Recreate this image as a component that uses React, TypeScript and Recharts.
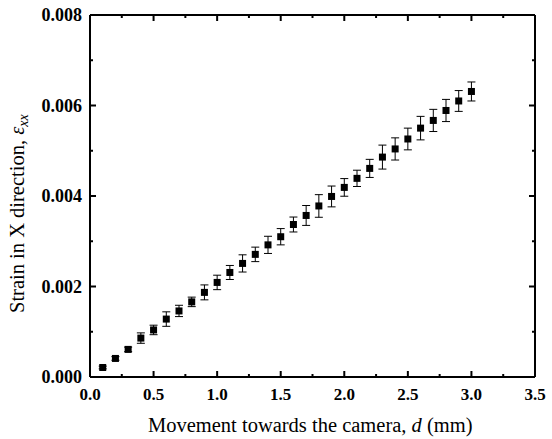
import {
  ScatterChart,
  Scatter,
  XAxis,
  YAxis,
  ZAxis,
  ErrorBar,
} from "recharts";

const distance = [
  0.1, 0.2, 0.3, 0.4, 0.5, 0.6, 0.7, 0.8, 0.9, 1.0, 1.1, 1.2, 1.3, 1.4, 1.5,
  1.6, 1.7, 1.8, 1.9, 2.0, 2.1, 2.2, 2.3, 2.4, 2.5, 2.6, 2.7, 2.8, 2.9, 3.0,
];
const strain = [
  0.00021, 0.00041, 0.00061, 0.00086, 0.00104, 0.00128, 0.00146, 0.00166,
  0.00187, 0.00209, 0.00231, 0.00251, 0.00271, 0.00292, 0.0031, 0.00337,
  0.00357, 0.00378, 0.00399, 0.00419, 0.00439, 0.00461, 0.00486, 0.00504,
  0.00526, 0.0055, 0.00567, 0.00589, 0.0061, 0.00631,
];
const strainError = [
  0.00003, 0.00004, 0.00005, 0.000115, 0.000105, 0.00016, 0.000125, 0.000105,
  0.000165, 0.00016, 0.000155, 0.00019, 0.00016, 0.00019, 0.00018, 0.000165,
  0.00022, 0.00025, 0.00023, 0.000195, 0.00018, 0.0002, 0.000265, 0.000245,
  0.00024, 0.00026, 0.000245, 0.000245, 0.00023, 0.00021,
];
const xTicks = [
  0, 0.25, 0.5, 0.75, 1, 1.25, 1.5, 1.75, 2, 2.25, 2.5, 2.75, 3, 3.25, 3.5,
];
const yTicks = [0, 0.001, 0.002, 0.003, 0.004, 0.005, 0.006, 0.007, 0.008];

const data = distance.map((d, i) => ({
  d,
  strain: strain[i],
  err: strainError[i],
}));

const FONT = "'Liberation Serif', 'Times New Roman', serif";
const isMajorX = (v: number) => Math.abs(v * 2 - Math.round(v * 2)) < 1e-6;
const isMajorY = (v: number) =>
  Math.abs(v / 0.002 - Math.round(v / 0.002)) < 1e-6;

const BottomTick = ({ x, y, payload }: any) => {
  const major = isMajorX(payload.value);
  return (
    <g>
      <line x1={x} y1={y} x2={x} y2={y - (major ? 6 : 3)} stroke="#000" strokeWidth={2} />
      {major && (
        <text x={x} y={y + 23} textAnchor="middle" fontFamily={FONT} fontWeight="bold" fontSize={17} fill="#000">
          {payload.value.toFixed(1)}
        </text>
      )}
    </g>
  );
};

// top/right axes have size 1, so the tick props land on the frame line
const TopTick = ({ x, y, payload }: any) => {
  const major = isMajorX(payload.value);
  return <line x1={x} y1={y} x2={x} y2={y + (major ? 6 : 3)} stroke="#000" strokeWidth={2} />;
};

const LeftTick = ({ x, y, payload }: any) => {
  const major = isMajorY(payload.value);
  return (
    <g>
      <line x1={x} y1={y} x2={x + (major ? 6 : 3)} y2={y} stroke="#000" strokeWidth={2} />
      {major && (
        <text x={x - 8} y={y + 6} textAnchor="end" fontFamily={FONT} fontWeight="bold" fontSize={18} fill="#000">
          {payload.value.toFixed(3)}
        </text>
      )}
    </g>
  );
};

const RightTick = ({ x, y, payload }: any) => {
  const major = isMajorY(payload.value);
  return <line x1={x} y1={y} x2={x - (major ? 6 : 3)} y2={y} stroke="#000" strokeWidth={2} />;
};

const SquareDot = ({ cx, cy }: any) => (
  <rect x={cx - 3.5} y={cy - 3.5} width={7} height={7} fill="#000" />
);

const NoDot = () => <g />;

const XTitle = () => (
  <text x={148} y={432} fontFamily={FONT} fontSize={20.5} fill="#000">
    Movement towards the camera, <tspan fontStyle="italic">d</tspan> (mm)
  </text>
);

const YTitle = () => (
  <text x={24} y={313} transform="rotate(-90 24 313)" fontFamily={FONT} fontSize={20.5} fill="#000">
    Strain in X direction, <tspan fontStyle="italic">ε</tspan>
    <tspan fontStyle="italic" fontSize={14} dy={4}>xx</tspan>
  </text>
);

const App = () => {
  return (
    <div style={{ position: "absolute", left: 0, top: 0, background: "#fff" }}>
      <ScatterChart
        width={552}
        height={439}
        margin={{ top: 14, right: 16, bottom: 0, left: 0 }}
      >
        <ZAxis range={[49, 49]} />
        <XAxis
          type="number"
          dataKey="d"
          domain={[0, 3.5]}
          ticks={xTicks}
          interval={0}
          height={62}
          tickSize={0}
          tickMargin={0}
          tick={<BottomTick />}
          axisLine={{ stroke: "#000", strokeWidth: 2 }}
          label={{ content: () => <XTitle /> }}
        />
        <XAxis
          xAxisId="top"
          orientation="top"
          type="number"
          dataKey="d"
          domain={[0, 3.5]}
          ticks={xTicks}
          interval={0}
          height={1}
          tickSize={0}
          tickMargin={0}
          tick={<TopTick />}
          axisLine={{ stroke: "#000", strokeWidth: 2 }}
        />
        <YAxis
          type="number"
          dataKey="strain"
          domain={[0, 0.008]}
          ticks={yTicks}
          interval={0}
          width={90}
          tickSize={0}
          tickMargin={0}
          tick={<LeftTick />}
          axisLine={{ stroke: "#000", strokeWidth: 2 }}
          label={{ content: () => <YTitle /> }}
        />
        <YAxis
          yAxisId="right"
          orientation="right"
          type="number"
          dataKey="strain"
          domain={[0, 0.008]}
          ticks={yTicks}
          interval={0}
          width={1}
          tickSize={0}
          tickMargin={0}
          tick={<RightTick />}
          axisLine={{ stroke: "#000", strokeWidth: 2 }}
        />
        <Scatter
          data={data}
          xAxisId="top"
          yAxisId="right"
          shape={<NoDot />}
          legendType="none"
          isAnimationActive={false}
        />
        <Scatter data={data} fill="#000" shape={<SquareDot />} isAnimationActive={false}>
          <ErrorBar dataKey="err" direction="y" width={4} stroke="#000" strokeWidth={1} />
        </Scatter>
      </ScatterChart>
    </div>
  );
};

export default App;
